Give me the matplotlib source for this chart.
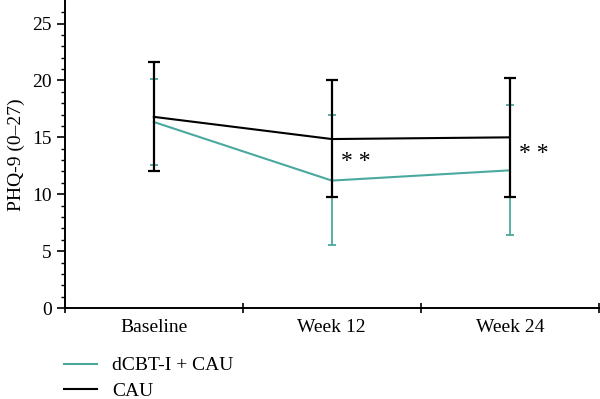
import numpy as np
import matplotlib.pyplot as plt
from matplotlib.lines import Line2D

# =====================
# Data
# =====================
timepoints = ["Baseline", "Week 12", "Week 24"]

dcbt_mean = [16.35, 11.2, 12.1]
dcbt_low = [12.6, 5.5, 6.45]
dcbt_high = [20.15, 16.95, 17.8]

cau_mean = [16.8, 14.85, 15.0]
cau_low = [12.0, 9.75, 9.75]
cau_high = [21.6, 20.0, 20.2]

stars_y = [12.9, 13.55]   # "**" labels at Week 12 and Week 24

teal = "#4aa99f"

plt.rcParams['font.family'] = ['Liberation Serif', 'DejaVu Serif']

fig = plt.figure(figsize=(6, 3.99), dpi=100)
ax = fig.add_axes([0.108, 0.228, 0.89, 0.77])

x = np.arange(len(timepoints))
dcbt_err = [np.array(dcbt_mean) - np.array(dcbt_low), np.array(dcbt_high) - np.array(dcbt_mean)]
cau_err = [np.array(cau_mean) - np.array(cau_low), np.array(cau_high) - np.array(cau_mean)]

ax.errorbar(x, dcbt_mean, yerr=dcbt_err, color=teal, lw=1.5, elinewidth=1.3,
            capsize=3, capthick=1.3, zorder=2)
ax.errorbar(x, cau_mean, yerr=cau_err, color="black", lw=1.5, elinewidth=1.6,
            capsize=4, capthick=1.6, zorder=3)

for xi, yi in zip(x[1:], stars_y):
    ax.text(xi + 0.05, yi, "* *", fontsize=17, ha="left", va="center")

ax.set_xlim(-0.5, 2.5)
ax.set_ylim(0, 27)
ax.set_xticks(x)
ax.set_xticklabels(timepoints, fontsize=14)
ax.set_xticks([-0.5, 0.5, 1.5, 2.5], minor=True)
ax.tick_params(axis="x", which="major", length=0, pad=8)
ax.tick_params(axis="x", which="minor", direction="inout", length=7, width=1.2)

ax.set_yticks(range(0, 26, 5))
ax.set_yticks(range(0, 27), minor=True)
ax.tick_params(axis="y", which="major", length=6, width=1.2, labelsize=14)
ax.tick_params(axis="y", which="minor", length=3, width=1.0)
ax.set_ylabel("PHQ-9 (0–27)", fontsize=14, labelpad=5)

for s in ["top", "right"]:
    ax.spines[s].set_visible(False)
for s in ["left", "bottom"]:
    ax.spines[s].set_linewidth(1.4)

handles = [Line2D([], [], color=teal, lw=1.5), Line2D([], [], color="black", lw=1.5)]
fig.legend(handles, ["dCBT-I + CAU", "CAU"], loc="upper left",
           bbox_to_anchor=(0.107, 0.106), frameon=False, fontsize=14,
           handlelength=1.7, handletextpad=0.75, labelspacing=0.4,
           borderaxespad=0, borderpad=0)

fig.savefig("out.png", dpi=100)
